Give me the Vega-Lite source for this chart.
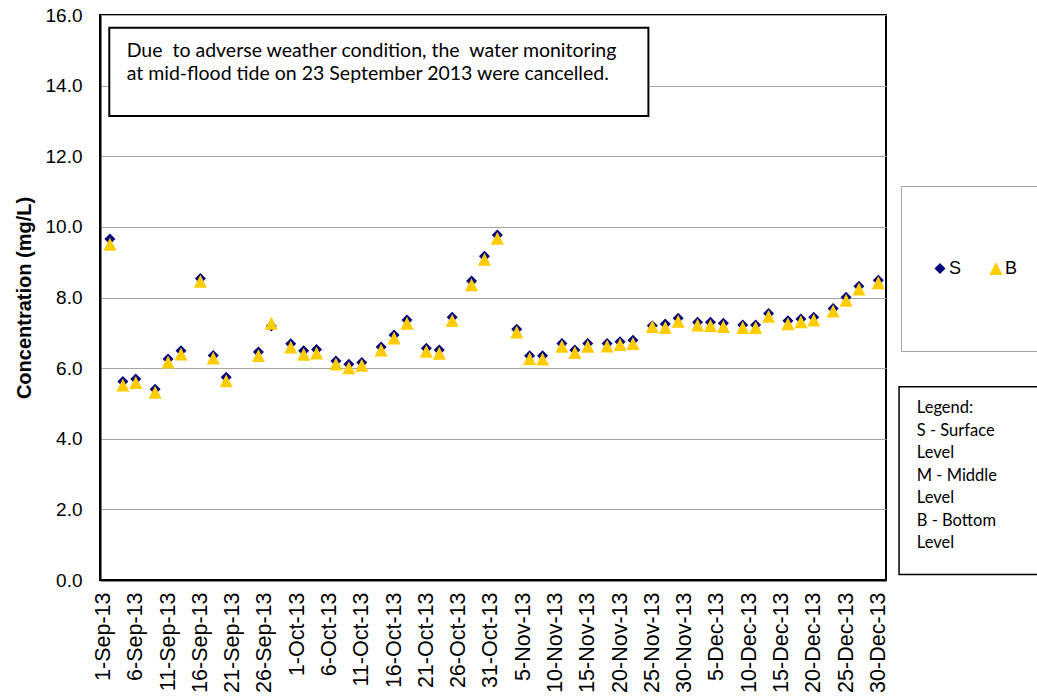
{
  "$schema": "https://vega.github.io/schema/vega-lite/v6.json",
  "width": 786,
  "height": 565,
  "autosize": {"type": "none"},
  "padding": {"left": 100, "top": 15, "right": 151, "bottom": 118},
  "background": "white",
  "config": {
    "view": {"stroke": "black", "strokeWidth": 2},
    "axis": {"labelFont": "Liberation Sans", "titleFont": "Liberation Sans", "labelColor": "black", "titleColor": "black"}
  },
  "layer": [
    {
      "data": {
        "values": [
          {"date": "2013-09-02", "S": 9.66, "B": 9.51},
          {"date": "2013-09-04", "S": 5.62, "B": 5.52},
          {"date": "2013-09-06", "S": 5.69, "B": 5.59},
          {"date": "2013-09-09", "S": 5.40, "B": 5.32},
          {"date": "2013-09-11", "S": 6.26, "B": 6.17},
          {"date": "2013-09-13", "S": 6.49, "B": 6.40},
          {"date": "2013-09-16", "S": 8.54, "B": 8.46},
          {"date": "2013-09-18", "S": 6.36, "B": 6.29},
          {"date": "2013-09-20", "S": 5.74, "B": 5.64},
          {"date": "2013-09-25", "S": 6.46, "B": 6.36},
          {"date": "2013-09-27", "S": 7.19, "B": 7.27},
          {"date": "2013-09-30", "S": 6.69, "B": 6.60},
          {"date": "2013-10-02", "S": 6.49, "B": 6.39},
          {"date": "2013-10-04", "S": 6.53, "B": 6.43},
          {"date": "2013-10-07", "S": 6.20, "B": 6.12},
          {"date": "2013-10-09", "S": 6.11, "B": 6.01},
          {"date": "2013-10-11", "S": 6.16, "B": 6.08},
          {"date": "2013-10-14", "S": 6.60, "B": 6.51},
          {"date": "2013-10-16", "S": 6.94, "B": 6.85},
          {"date": "2013-10-18", "S": 7.36, "B": 7.27},
          {"date": "2013-10-21", "S": 6.56, "B": 6.48},
          {"date": "2013-10-23", "S": 6.51, "B": 6.42},
          {"date": "2013-10-25", "S": 7.44, "B": 7.35},
          {"date": "2013-10-28", "S": 8.47, "B": 8.36},
          {"date": "2013-10-30", "S": 9.17, "B": 9.08},
          {"date": "2013-11-01", "S": 9.77, "B": 9.68},
          {"date": "2013-11-04", "S": 7.10, "B": 7.02},
          {"date": "2013-11-06", "S": 6.35, "B": 6.27},
          {"date": "2013-11-08", "S": 6.35, "B": 6.26},
          {"date": "2013-11-11", "S": 6.70, "B": 6.62},
          {"date": "2013-11-13", "S": 6.51, "B": 6.44},
          {"date": "2013-11-15", "S": 6.70, "B": 6.62},
          {"date": "2013-11-18", "S": 6.70, "B": 6.63},
          {"date": "2013-11-20", "S": 6.75, "B": 6.67},
          {"date": "2013-11-22", "S": 6.79, "B": 6.70},
          {"date": "2013-11-25", "S": 7.20, "B": 7.18},
          {"date": "2013-11-27", "S": 7.25, "B": 7.15},
          {"date": "2013-11-29", "S": 7.41, "B": 7.33},
          {"date": "2013-12-02", "S": 7.30, "B": 7.22},
          {"date": "2013-12-04", "S": 7.30, "B": 7.21},
          {"date": "2013-12-06", "S": 7.27, "B": 7.18},
          {"date": "2013-12-09", "S": 7.22, "B": 7.15},
          {"date": "2013-12-11", "S": 7.22, "B": 7.15},
          {"date": "2013-12-13", "S": 7.55, "B": 7.47},
          {"date": "2013-12-16", "S": 7.34, "B": 7.26},
          {"date": "2013-12-18", "S": 7.39, "B": 7.31},
          {"date": "2013-12-20", "S": 7.44, "B": 7.36},
          {"date": "2013-12-23", "S": 7.69, "B": 7.62},
          {"date": "2013-12-25", "S": 8.01, "B": 7.92},
          {"date": "2013-12-27", "S": 8.32, "B": 8.24},
          {"date": "2013-12-30", "S": 8.49, "B": 8.42}
        ],
        "format": {"parse": {"date": "date:'%Y-%m-%d'"}}
      },
      "transform": [{"fold": ["S", "B"], "as": ["series", "value"]}],
      "mark": {"type": "point", "filled": true, "opacity": 1, "strokeWidth": 0},
      "encoding": {
        "x": {
          "field": "date",
          "type": "temporal",
          "scale": {"domain": [{"year": 2013, "month": 8, "date": 31, "hours": 11}, {"year": 2013, "month": 12, "date": 31, "hours": 4, "minutes": 30}]},
          "axis": {
            "values": [
              {"year": 2013, "month": 9, "date": 1}, {"year": 2013, "month": 9, "date": 6}, {"year": 2013, "month": 9, "date": 11},
              {"year": 2013, "month": 9, "date": 16}, {"year": 2013, "month": 9, "date": 21}, {"year": 2013, "month": 9, "date": 26},
              {"year": 2013, "month": 10, "date": 1}, {"year": 2013, "month": 10, "date": 6}, {"year": 2013, "month": 10, "date": 11},
              {"year": 2013, "month": 10, "date": 16}, {"year": 2013, "month": 10, "date": 21}, {"year": 2013, "month": 10, "date": 26},
              {"year": 2013, "month": 10, "date": 31}, {"year": 2013, "month": 11, "date": 5}, {"year": 2013, "month": 11, "date": 10},
              {"year": 2013, "month": 11, "date": 15}, {"year": 2013, "month": 11, "date": 20}, {"year": 2013, "month": 11, "date": 25},
              {"year": 2013, "month": 11, "date": 30}, {"year": 2013, "month": 12, "date": 5}, {"year": 2013, "month": 12, "date": 10},
              {"year": 2013, "month": 12, "date": 15}, {"year": 2013, "month": 12, "date": 20}, {"year": 2013, "month": 12, "date": 25},
              {"year": 2013, "month": 12, "date": 30}
            ],
            "tickCount": 100,
            "format": "%-d-%b-%y",
            "labelAngle": 270,
            "labelFontSize": 21.5,
            "labelPadding": 12,
            "labelOverlap": false,
            "labelFlush": false,
            "ticks": false,
            "grid": false,
            "domainColor": "black",
            "domainWidth": 2,
            "title": null
          }
        },
        "y": {
          "field": "value",
          "type": "quantitative",
          "scale": {"domain": [0, 16], "nice": false},
          "axis": {
            "values": [0, 2, 4, 6, 8, 10, 12, 14, 16],
            "format": ".1f",
            "labelFontSize": 19,
            "labelPadding": 18,
            "ticks": false,
            "gridColor": "#A6A6A6",
            "gridWidth": 1,
            "domainColor": "black",
            "domainWidth": 2,
            "title": "Concentration (mg/L)",
            "titleFontSize": 20,
            "titleFontWeight": "bold",
            "titlePadding": 11
          }
        },
        "color": {
          "field": "series",
          "type": "nominal",
          "scale": {"domain": ["S", "B"], "range": ["#000080", "#FFCC00"]},
          "legend": {
            "title": null,
            "orient": "none",
            "legendX": 801,
            "legendY": 171,
            "direction": "horizontal",
            "strokeColor": "#A6A6A6",
            "fillColor": "white",
            "padding": 30,
            "clipHeight": 105,
            "symbolSize": 121,
            "symbolStrokeWidth": 0,
            "labelFontSize": 18,
            "labelFont": "Liberation Sans",
            "labelColor": "black",
            "labelOffset": 0,
            "columnPadding": 25
          }
        },
        "shape": {
          "field": "series",
          "type": "nominal",
          "scale": {"domain": ["S", "B"], "range": ["diamond", "M0,-1L1,1L-1,1Z"]}
        },
        "size": {
          "field": "series",
          "type": "nominal",
          "scale": {"domain": ["S", "B"], "range": [121, 169]},
          "legend": null
        }
      }
    },
    {
      "data": {"values": [{}]},
      "mark": {"type": "rect", "fill": "white", "stroke": "black", "strokeWidth": 2},
      "encoding": {
        "x": {"datum": {"year": 2013, "month": 9, "date": 1, "hours": 21, "minutes": 30}, "type": "temporal"},
        "x2": {"datum": {"year": 2013, "month": 11, "date": 24, "hours": 9, "minutes": 20}},
        "y": {"datum": 15.64, "type": "quantitative"},
        "y2": {"datum": 13.14}
      }
    },
    {
      "data": {"values": [{}]},
      "mark": {"type": "text", "align": "left", "baseline": "alphabetic", "font": "Lato", "fontSize": 19.5, "lineHeight": 23.3, "color": "black"},
      "encoding": {
        "x": {"datum": {"year": 2013, "month": 9, "date": 4, "hours": 14}, "type": "temporal"},
        "y": {"datum": 14.82, "type": "quantitative"},
        "text": {"value": ["Due \u00a0to adverse weather condition, the \u00a0water monitoring", "at mid-flood tide on 23 September 2013 were cancelled."]}
      }
    },
    {
      "data": {"values": [{}]},
      "mark": {"type": "rect", "fill": "white", "stroke": "black", "strokeWidth": 1.5},
      "encoding": {
        "x": {"datum": {"year": 2014, "month": 1, "date": 2, "hours": 5}, "type": "temporal"},
        "x2": {"datum": {"year": 2014, "month": 1, "date": 25}},
        "y": {"datum": 5.474, "type": "quantitative"},
        "y2": {"datum": 0.156}
      }
    },
    {
      "data": {"values": [{}]},
      "mark": {"type": "text", "align": "left", "baseline": "alphabetic", "font": "Lato", "fontSize": 16.5, "lineHeight": 22.5, "color": "black"},
      "encoding": {
        "x": {"datum": {"year": 2014, "month": 1, "date": 4, "hours": 23}, "type": "temporal"},
        "y": {"datum": 4.72, "type": "quantitative"},
        "text": {"value": ["Legend:", "S - Surface", "Level", "M - Middle", "Level", "B - Bottom", "Level"]}
      }
    }
  ]
}
